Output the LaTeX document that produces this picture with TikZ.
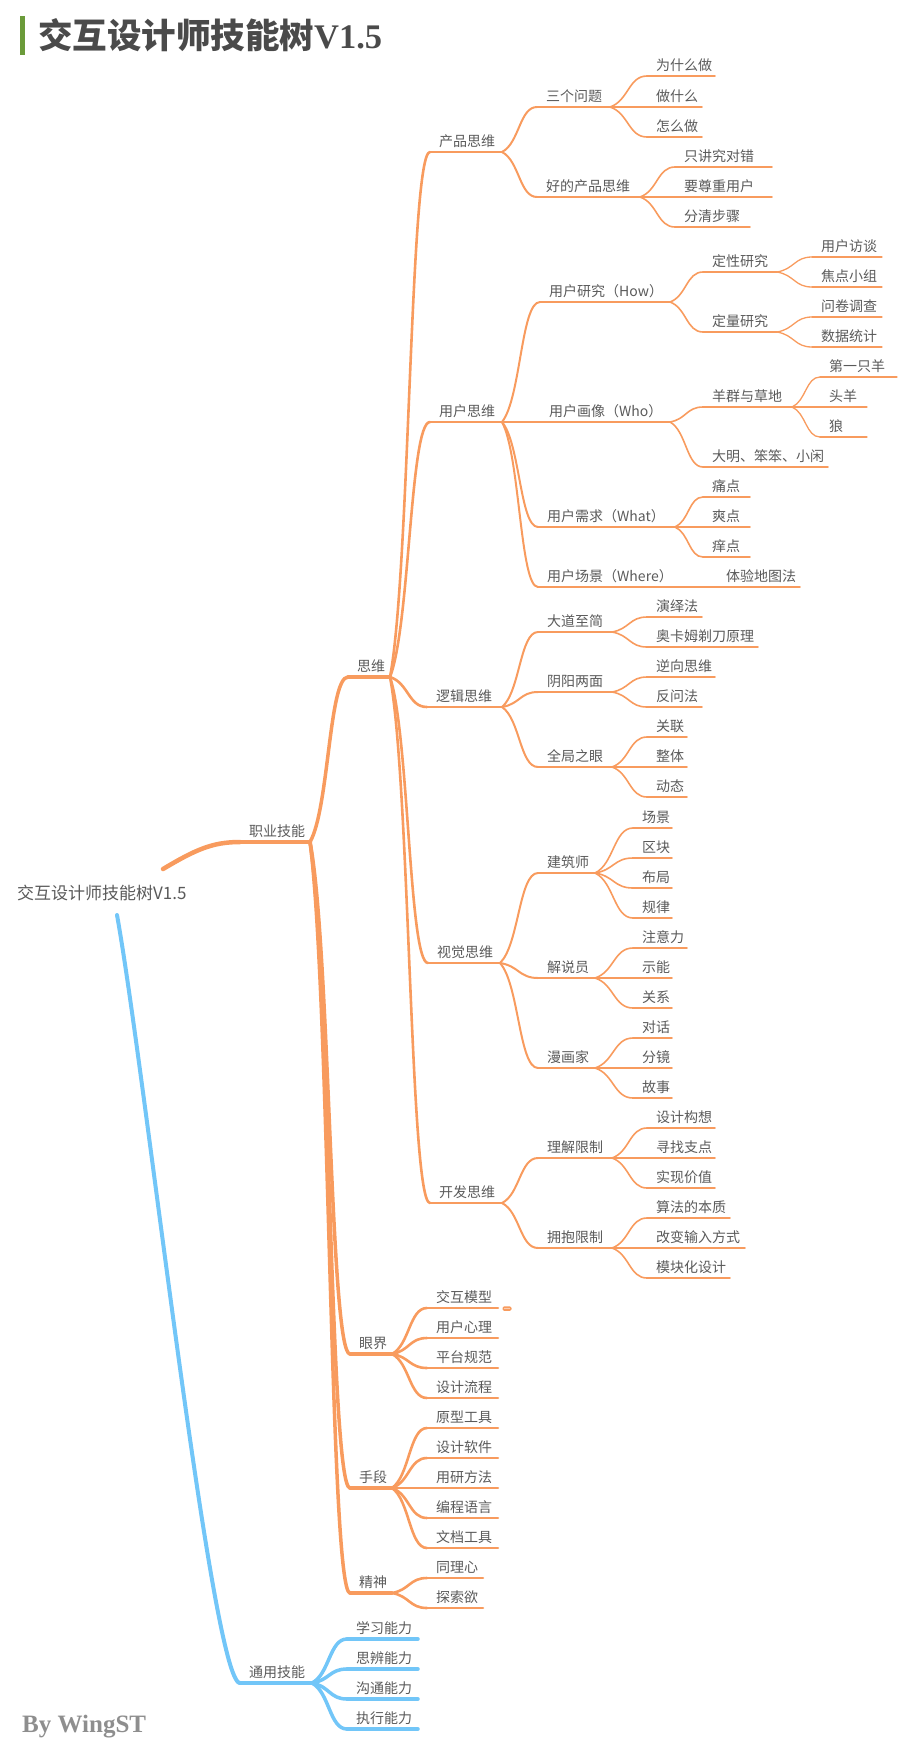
\documentclass[tikz,border=0pt]{standalone}
\usepackage{fontspec}
\setmainfont{Noto Sans CJK SC}
\newfontfamily\serifb{Liberation Serif}
\usetikzlibrary{calc}
\definecolor{mmorange}{HTML}{F89B5E}
\definecolor{mmblue}{HTML}{72C6F8}
\definecolor{mmtext}{HTML}{5A5A5A}
\definecolor{mmgreen}{HTML}{6B9B3A}
\definecolor{titlegray}{HTML}{4A4A4A}
\definecolor{bygray}{HTML}{8E8E8E}
\def\mmcol{mmorange}
\tikzset{
  mmline/.style={draw=\mmcol, line cap=round, line join=round},
  lab/.style={anchor=base west, inner sep=0pt, text=mmtext, font=\fontsize{14}{16}\selectfont},
}
% name, x0, x1, y, width, text
\newcommand\mmn[6]{%
  \coordinate (#1L) at (#2,#4);
  \coordinate (#1R) at (#3,#4);
  \draw[mmline, line width=#5] (#1L) -- (#1R);
  \node[lab] (#1) at ($(#1L)+(9,-5.5)$) {#6};
}
% parent, child, width
\newcommand\mmc[3]{%
  \draw[mmline, line width=#3] let \p1=(#1R), \p2=(#2L) in
    (\p1) .. controls ({\x1+0.5*(\x2-\x1)},{\y1+0.2*(\y2-\y1)}) and ({\x1+0.5*(\x2-\x1)},\y2) .. (\p2);
}
\begin{document}
\begin{tikzpicture}[x=1pt,y=-1pt]
\useasboundingbox (0,0) rectangle (900,1757);

% title
\fill[mmgreen] (20,16) rectangle (25,55);
\node[anchor=west, inner sep=0pt, text=titlegray, font=\fontsize{34.5}{38}\selectfont\bfseries] (title) at (38,35) {交互设计师技能树{\serifb\bfseries V1.5}};
\node[anchor=west, inner sep=0pt, text=bygray, font=\fontsize{25}{29}\selectfont\serifb\bfseries] (by) at (22,1727) {By WingST};

% root
\node[anchor=west, inner sep=0pt, text=mmtext, font=\fontsize{17}{20}\selectfont] (root) at (17,893) {交互设计师技能树V1.5};
\coordinate (rootO) at (163,869);
\coordinate (rootB) at (117,915);

% level 1
\mmn{zy}{240}{310}{842}{4.5pt}{职业技能}
\draw[mmline, line width=4.5pt] (rootO) .. controls (195,850) and (212,842) .. (zyL);

% 思维 etc
\mmn{sw}{348}{390}{677}{3.5pt}{思维}      \mmc{zy}{sw}{3.5pt}
\mmn{yj}{350}{392}{1354}{3.5pt}{眼界}     \mmc{zy}{yj}{3.5pt}
\mmn{sd}{350}{392}{1488}{3.5pt}{手段}     \mmc{zy}{sd}{3.5pt}
\mmn{js}{350}{392}{1593}{3.5pt}{精神}     \mmc{zy}{js}{3.5pt}

\mmn{cp}{430}{502}{152}{2.6pt}{产品思维}  \mmc{sw}{cp}{2.6pt}
\mmn{yh}{430}{502}{422}{2.6pt}{用户思维}  \mmc{sw}{yh}{2.6pt}
\mmn{lj}{427}{502}{707}{2.6pt}{逻辑思维}  \mmc{sw}{lj}{2.6pt}
\mmn{sj}{428}{500}{963}{2.6pt}{视觉思维}  \mmc{sw}{sj}{2.6pt}
\mmn{kf}{430}{502}{1203}{2.6pt}{开发思维} \mmc{sw}{kf}{2.6pt}

% 产品思维
\mmn{q3}{537}{610}{107}{2pt}{三个问题}      \mmc{cp}{q3}{2pt}
\mmn{hd}{537}{640}{197}{2pt}{好的产品思维}  \mmc{cp}{hd}{2pt}
\mmn{a1}{647}{715}{76}{1.6pt}{为什么做}   \mmc{q3}{a1}{1.6pt}
\mmn{a2}{647}{702}{107}{1.6pt}{做什么}    \mmc{q3}{a2}{1.6pt}
\mmn{a3}{647}{702}{137}{1.6pt}{怎么做}    \mmc{q3}{a3}{1.6pt}
\mmn{b1}{675}{772}{167}{1.6pt}{只讲究对错} \mmc{hd}{b1}{1.6pt}
\mmn{b2}{675}{772}{197}{1.6pt}{要尊重用户} \mmc{hd}{b2}{1.6pt}
\mmn{b3}{675}{750}{227}{1.6pt}{分清步骤}   \mmc{hd}{b3}{1.6pt}

% 用户思维
\mmn{yr}{540}{670}{302}{2pt}{用户研究（How）}    \mmc{yh}{yr}{2pt}
\mmn{yx}{540}{670}{422}{2pt}{用户画像（Who）}    \mmc{yh}{yx}{2pt}
\mmn{yq}{538}{675}{527}{2pt}{用户需求（What）}   \mmc{yh}{yq}{2pt}
\mmn{yc}{538}{678}{587}{2pt}{用户场景（Where）}  \mmc{yh}{yc}{2pt}
\mmn{dx}{703}{777}{272}{1.6pt}{定性研究}  \mmc{yr}{dx}{1.6pt}
\mmn{dl}{703}{777}{332}{1.6pt}{定量研究}  \mmc{yr}{dl}{1.6pt}
\mmn{c1}{812}{882}{257}{1.3pt}{用户访谈}  \mmc{dx}{c1}{1.3pt}
\mmn{c2}{812}{882}{287}{1.3pt}{焦点小组}  \mmc{dx}{c2}{1.3pt}
\mmn{c3}{812}{882}{317}{1.3pt}{问卷调查}  \mmc{dl}{c3}{1.3pt}
\mmn{c4}{812}{882}{347}{1.3pt}{数据统计}  \mmc{dl}{c4}{1.3pt}
\mmn{yg}{703}{792}{407}{1.6pt}{羊群与草地}      \mmc{yx}{yg}{1.6pt}
\mmn{dm}{703}{828}{467}{1.6pt}{大明、笨笨、小闲} \mmc{yx}{dm}{1.6pt}
\mmn{d1}{820}{897}{377}{1.3pt}{第一只羊}  \mmc{yg}{d1}{1.3pt}
\mmn{d2}{820}{867}{407}{1.3pt}{头羊}      \mmc{yg}{d2}{1.3pt}
\mmn{d3}{820}{867}{437}{1.3pt}{狼}        \mmc{yg}{d3}{1.3pt}
\mmn{e1}{703}{750}{497}{1.6pt}{痛点}  \mmc{yq}{e1}{1.6pt}
\mmn{e2}{703}{750}{527}{1.6pt}{爽点}  \mmc{yq}{e2}{1.6pt}
\mmn{e3}{703}{750}{557}{1.6pt}{痒点}  \mmc{yq}{e3}{1.6pt}
\mmn{f1}{717}{800}{587}{1.6pt}{体验地图法}  \mmc{yc}{f1}{1.6pt}

% 逻辑思维
\mmn{ld}{538}{612}{632}{2pt}{大道至简}  \mmc{lj}{ld}{2pt}
\mmn{ly}{538}{612}{692}{2pt}{阴阳两面}  \mmc{lj}{ly}{2pt}
\mmn{lq}{538}{612}{767}{2pt}{全局之眼}  \mmc{lj}{lq}{2pt}
\mmn{g1}{647}{702}{617}{1.6pt}{演绎法}          \mmc{ld}{g1}{1.6pt}
\mmn{g2}{647}{758}{647}{1.6pt}{奥卡姆剃刀原理}  \mmc{ld}{g2}{1.6pt}
\mmn{g3}{647}{715}{677}{1.6pt}{逆向思维}        \mmc{ly}{g3}{1.6pt}
\mmn{g4}{647}{702}{707}{1.6pt}{反问法}          \mmc{ly}{g4}{1.6pt}
\mmn{g5}{647}{687}{737}{1.6pt}{关联}  \mmc{lq}{g5}{1.6pt}
\mmn{g6}{647}{687}{767}{1.6pt}{整体}  \mmc{lq}{g6}{1.6pt}
\mmn{g7}{647}{687}{797}{1.6pt}{动态}  \mmc{lq}{g7}{1.6pt}

% 视觉思维
\mmn{vj}{538}{595}{873}{2pt}{建筑师}   \mmc{sj}{vj}{2pt}
\mmn{vs}{538}{595}{978}{2pt}{解说员}   \mmc{sj}{vs}{2pt}
\mmn{vm}{538}{595}{1068}{2pt}{漫画家}  \mmc{sj}{vm}{2pt}
\mmn{h1}{633}{672}{828}{1.6pt}{场景}   \mmc{vj}{h1}{1.6pt}
\mmn{h2}{633}{672}{858}{1.6pt}{区块}   \mmc{vj}{h2}{1.6pt}
\mmn{h3}{633}{672}{888}{1.6pt}{布局}   \mmc{vj}{h3}{1.6pt}
\mmn{h4}{633}{672}{918}{1.6pt}{规律}   \mmc{vj}{h4}{1.6pt}
\mmn{h5}{633}{687}{948}{1.6pt}{注意力} \mmc{vs}{h5}{1.6pt}
\mmn{h6}{633}{672}{978}{1.6pt}{示能}   \mmc{vs}{h6}{1.6pt}
\mmn{h7}{633}{672}{1008}{1.6pt}{关系}  \mmc{vs}{h7}{1.6pt}
\mmn{h8}{633}{672}{1038}{1.6pt}{对话}  \mmc{vm}{h8}{1.6pt}
\mmn{h9}{633}{672}{1068}{1.6pt}{分镜}  \mmc{vm}{h9}{1.6pt}
\mmn{h10}{633}{672}{1098}{1.6pt}{故事} \mmc{vm}{h10}{1.6pt}

% 开发思维
\mmn{kl}{538}{612}{1158}{2pt}{理解限制}  \mmc{kf}{kl}{2pt}
\mmn{kb}{538}{612}{1248}{2pt}{拥抱限制}  \mmc{kf}{kb}{2pt}
\mmn{i1}{647}{715}{1128}{1.6pt}{设计构想}      \mmc{kl}{i1}{1.6pt}
\mmn{i2}{647}{715}{1158}{1.6pt}{寻找支点}      \mmc{kl}{i2}{1.6pt}
\mmn{i3}{647}{715}{1188}{1.6pt}{实现价值}      \mmc{kl}{i3}{1.6pt}
\mmn{i4}{647}{730}{1218}{1.6pt}{算法的本质}    \mmc{kb}{i4}{1.6pt}
\mmn{i5}{647}{745}{1248}{1.6pt}{改变输入方式}  \mmc{kb}{i5}{1.6pt}
\mmn{i6}{647}{730}{1278}{1.6pt}{模块化设计}    \mmc{kb}{i6}{1.6pt}

% 眼界
\mmn{j1}{427}{498}{1308}{2.6pt}{交互模型}  \mmc{yj}{j1}{2.6pt}
\mmn{j2}{427}{498}{1338}{2.6pt}{用户心理}  \mmc{yj}{j2}{2.6pt}
\mmn{j3}{427}{498}{1368}{2.6pt}{平台规范}  \mmc{yj}{j3}{2.6pt}
\mmn{j4}{427}{498}{1398}{2.6pt}{设计流程}  \mmc{yj}{j4}{2.6pt}
\node[fill=mmorange, rounded corners=1.5pt, minimum width=9pt, minimum height=4.5pt, inner sep=0pt] (badge) at (507,1308.5) {};
\foreach \dd in {-2,0,2} \fill[white] ($(badge.center)+(\dd,0)$) circle (0.55);

% 手段
\mmn{k1}{427}{498}{1428}{2.6pt}{原型工具}  \mmc{sd}{k1}{2.6pt}
\mmn{k2}{427}{498}{1458}{2.6pt}{设计软件}  \mmc{sd}{k2}{2.6pt}
\mmn{k3}{427}{498}{1488}{2.6pt}{用研方法}  \mmc{sd}{k3}{2.6pt}
\mmn{k4}{427}{498}{1518}{2.6pt}{编程语言}  \mmc{sd}{k4}{2.6pt}
\mmn{k5}{427}{498}{1548}{2.6pt}{文档工具}  \mmc{sd}{k5}{2.6pt}

% 精神
\mmn{m1}{427}{483}{1578}{2.6pt}{同理心}  \mmc{js}{m1}{2.6pt}
\mmn{m2}{427}{483}{1608}{2.6pt}{探索欲}  \mmc{js}{m2}{2.6pt}

% 通用技能 (blue)
\def\mmcol{mmblue}
\mmn{ty}{240}{312}{1683}{4pt}{通用技能}
\draw[mmline, line width=4pt] (rootB) .. controls (145,1070) and (212,1683) .. (tyL);
\mmn{n1}{347}{418}{1639}{3.5pt}{学习能力}  \mmc{ty}{n1}{3.5pt}
\mmn{n2}{347}{418}{1669}{3.5pt}{思辨能力}  \mmc{ty}{n2}{3.5pt}
\mmn{n3}{347}{418}{1699}{3.5pt}{沟通能力}  \mmc{ty}{n3}{3.5pt}
\mmn{n4}{347}{418}{1729}{3.5pt}{执行能力}  \mmc{ty}{n4}{3.5pt}
\end{tikzpicture}
\end{document}
